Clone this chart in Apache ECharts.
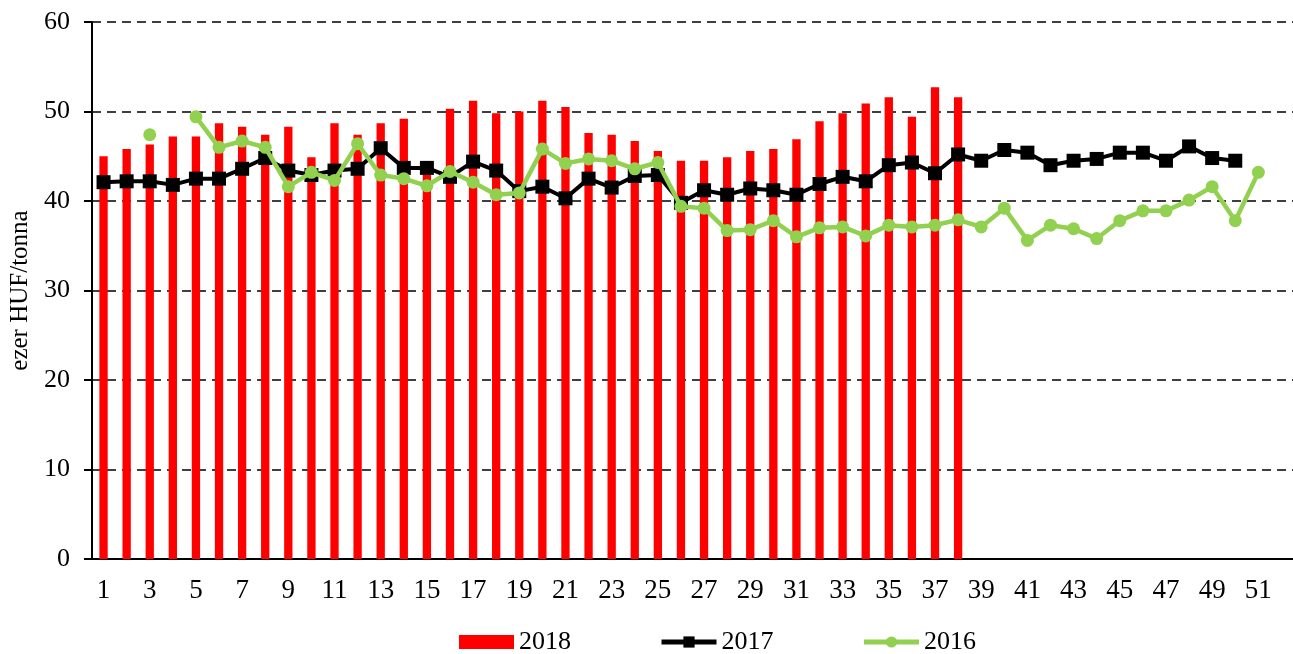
<!DOCTYPE html>
<html>
<head>
<meta charset="utf-8">
<script src="https://cdn.jsdelivr.net/npm/echarts@6/dist/echarts.min.js"></script>
<style>
	html, body { margin: 0; padding: 0; background: #fff; }
	#chart { width: 1293px; height: 654px; }
</style>
</head>
<body>
<div id="chart"></div>
<script>
// hetek (1..52)
var weeks = [];
for (var w = 1; w <= 52; w++) weeks.push(String(w));

// 2018 - oszlopok
var data2018 = [45.0, 45.8, 46.3, 47.2, 47.2, 48.7, 48.3, 47.4, 48.3, 44.9,
	48.7, 47.4, 48.7, 49.2, 43.0, 50.3, 51.2, 49.8, 50.0, 51.2,
	50.5, 47.6, 47.4, 46.7, 45.6, 44.5, 44.5, 44.9, 45.6, 45.8,
	46.9, 48.9, 49.8, 50.9, 51.6, 49.4, 52.7, 51.6];

// 2017 - fekete vonal
var data2017 = [42.1, 42.2, 42.2, 41.8, 42.5, 42.5, 43.6, 44.8, 43.4, 42.9,
	43.4, 43.6, 45.9, 43.7, 43.7, 42.7, 44.4, 43.4, 41.1, 41.6,
	40.3, 42.5, 41.5, 42.8, 42.9, 39.8, 41.2, 40.7, 41.4, 41.2,
	40.7, 41.9, 42.7, 42.2, 44.0, 44.3, 43.1, 45.2, 44.5, 45.7,
	45.4, 44.0, 44.5, 44.7, 45.4, 45.4, 44.5, 46.1, 44.8, 44.5];

// 2016 - zöld vonal
var data2016 = [null, null, 47.4, null, 49.4, 46.0, 46.7, 46.0, 41.6, 43.2,
	42.3, 46.4, 42.9, 42.5, 41.7, 43.3, 42.1, 40.7, 40.9, 45.8,
	44.2, 44.7, 44.5, 43.6, 44.3, 39.4, 39.2, 36.7, 36.8, 37.8,
	36.0, 37.0, 37.1, 36.1, 37.3, 37.1, 37.3, 37.9, 37.1, 39.2,
	35.6, 37.3, 36.9, 35.8, 37.8, 38.9, 38.9, 40.1, 41.6, 37.8,
	43.2];

var yTicks = { min: 0, max: 60, interval: 10 };
var fontFamily = '"Liberation Serif", "Times New Roman", serif';

var myChart = echarts.init(document.getElementById('chart'));
var option = {
	animation: false,
	textStyle: { fontFamily: fontFamily, color: '#000' },
	grid: {
		left: 92,
		top: 22,
		width: 1203,
		bottom: 95
	},
	legend: {
		left: 454,
		top: 624,
		itemWidth: 55,
		itemHeight: 14,
		itemGap: 88,
		lineStyle: { width: 5 },
		textStyle: { fontFamily: fontFamily, fontSize: 26, color: '#000' },
		data: [{ name: '2018', icon: 'rect' }, '2017', '2016']
	},
	xAxis: {
		type: 'category',
		data: weeks,
		boundaryGap: true,
		axisLine: { lineStyle: { color: '#000', width: 2 } },
		axisTick: { interval: 0, length: 7, lineStyle: { color: '#000', width: 2 } },
		axisLabel: { interval: 1, margin: 18, fontSize: 27, color: '#000', fontFamily: fontFamily }
	},
	yAxis: {
		type: 'value',
		min: yTicks.min,
		max: yTicks.max,
		interval: yTicks.interval,
		name: 'ezer HUF/tonna',
		nameLocation: 'middle',
		nameGap: 58,
		nameTextStyle: { fontSize: 25, color: '#000', fontFamily: fontFamily },
		axisLine: { show: true, lineStyle: { color: '#000', width: 2 } },
		axisTick: { show: true, length: 8, lineStyle: { color: '#000', width: 2 } },
		axisLabel: { margin: 22, fontSize: 26, color: '#000', fontFamily: fontFamily },
		splitLine: { lineStyle: { color: '#000', type: [9, 6], width: 1.5 } }
	},
	series: [
		{
			name: '2018',
			type: 'bar',
			data: data2018,
			barWidth: '36%',
			itemStyle: { color: '#ff0000' },
			z: 1
		},
		{
			name: '2017',
			type: 'line',
			data: data2017,
			symbol: 'rect',
			symbolSize: 14,
			lineStyle: { color: '#000', width: 4 },
			itemStyle: { color: '#000' },
			z: 3
		},
		{
			name: '2016',
			type: 'line',
			data: data2016,
			connectNulls: false,
			symbol: 'circle',
			symbolSize: 13,
			showAllSymbol: true,
			lineStyle: { color: '#92d050', width: 4.5 },
			itemStyle: { color: '#92d050' },
			z: 4
		}
	]
};
myChart.setOption(option);
</script>
</body>
</html>
